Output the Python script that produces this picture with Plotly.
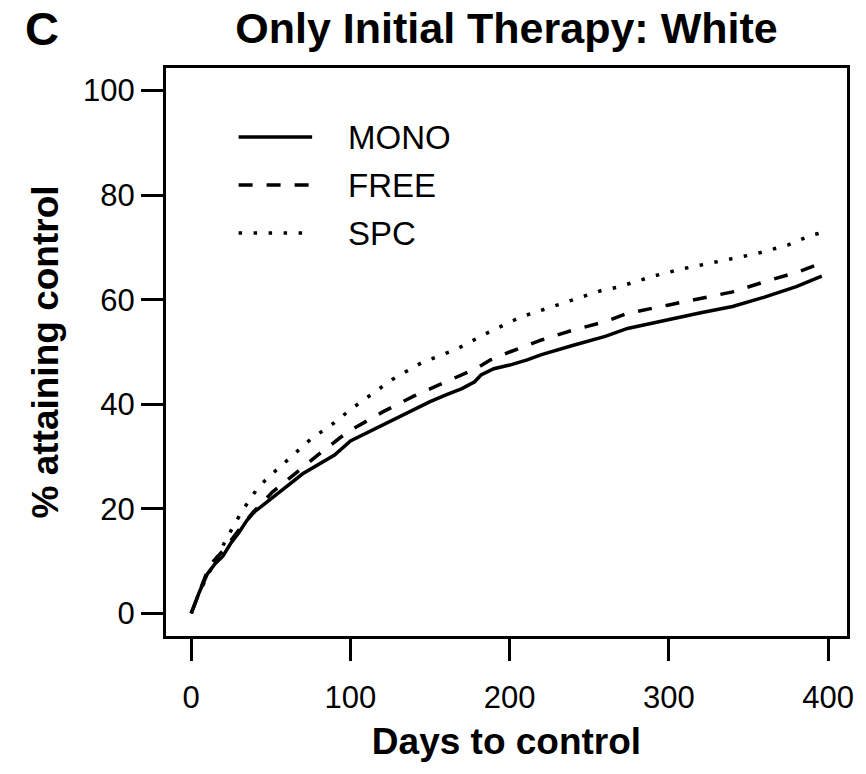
import plotly.graph_objects as go

# ---- data ----
mono_days = [0, 5, 10, 15, 20, 25, 30, 35, 40, 50, 60, 70, 80, 90, 100, 110, 120, 130, 140, 150,
             160, 170, 178, 182, 190, 200, 211, 220, 240, 260, 274, 290, 300, 320, 340, 360, 380, 396]
mono_pct = [0, 4, 7.5, 9.5, 11, 13.5, 15.5, 17.8, 19.5, 22, 24.3, 26.7, 28.5, 30.3, 33, 34.5, 36, 37.5, 39, 40.5,
            41.8, 43, 44.3, 45.6, 46.8, 47.5, 48.5, 49.5, 51.3, 53, 54.5, 55.6, 56.2, 57.5, 58.7, 60.5, 62.5, 64.5]

free_days = [0, 5, 10, 14, 20, 30, 39, 51, 60, 66, 80, 93, 100, 120, 140, 160, 180, 188, 200, 220,
             240, 260, 274, 300, 320, 340, 363, 380, 396]
free_pct = [0, 4.2, 8, 10, 12, 16, 19.4, 23.2, 25.5, 27, 30.4, 33.5, 35, 38.5, 41.6, 44.3, 47, 48.5, 50, 52.3,
            54.2, 55.8, 57.4, 59, 60.2, 61.5, 63.7, 65.2, 67]

spc_days = [0, 5, 11, 23, 32, 42, 49, 62, 75, 90, 100, 126, 145, 167, 185, 207, 230, 258, 268, 290,
            310, 330, 355, 375, 390, 396]
spc_pct = [0, 4, 7.6, 14.8, 19.6, 24.1, 26.2, 29.8, 33.3, 36.5, 39, 44.7, 48, 50.6, 53.5, 56.7, 59, 61.8, 62.4, 64.5,
           66, 67.3, 68.8, 70.5, 72.4, 72.8]

series_names = ["MONO", "FREE", "SPC"]
x_ticks = [0, 100, 200, 300, 400]
y_ticks = [0, 20, 40, 60, 80, 100]

FONT = "Liberation Sans, Arial, Helvetica, sans-serif"
DASH = {"MONO": "solid", "FREE": "14px,14px", "SPC": "3.5px,11.5px"}
LW = 3.5

fig = go.Figure()
for name, xs, ys in [("MONO", mono_days, mono_pct), ("FREE", free_days, free_pct), ("SPC", spc_days, spc_pct)]:
    fig.add_trace(go.Scatter(x=xs, y=ys, mode="lines", name=name,
                             line=dict(color="black", width=LW, dash=DASH[name]),
                             showlegend=False))

# custom legend (R style)
leg_y = [0.8785, 0.794, 0.7095]
for name, yy in zip(series_names, leg_y):
    fig.add_shape(type="line", xref="paper", yref="paper", x0=0.1066, x1=0.2146, y0=yy, y1=yy,
                  line=dict(color="black", width=LW, dash=DASH[name]))
    fig.add_annotation(xref="paper", yref="paper", x=0.2642, y=yy, text=name, showarrow=False,
                       xanchor="left", yanchor="middle", font=dict(family=FONT, size=33, color="black"))

# panel letter
fig.add_annotation(xref="paper", yref="paper", x=-0.21, y=1.0704, text="<b>C</b>", showarrow=False,
                   xanchor="left", yanchor="middle", font=dict(family=FONT, size=47, color="black"))

axis_common = dict(showgrid=False, zeroline=False, showline=True, linewidth=3, linecolor="black",
                   mirror=True, ticks="outside", ticklen=22, tickwidth=3, tickcolor="black",
                   tickfont=dict(family=FONT, size=31, color="black"))

fig.update_layout(
    width=866, height=774,
    margin=dict(l=166, r=15, t=68, b=138),
    paper_bgcolor="white", plot_bgcolor="white",
    title=dict(text="<b>Only Initial Therapy: White</b>", x=0.5, xref="paper", y=1 - 28 / 774,
               yref="container", xanchor="center", yanchor="middle",
               font=dict(family=FONT, size=43, color="black")),
    xaxis=dict(range=[-15.84, 411.84], tickvals=x_ticks, ticktext=[str(v) for v in x_ticks],
               title=dict(text="<b>Days to control</b>", font=dict(family=FONT, size=37, color="black"),
                          standoff=14),
               ticklabelstandoff=10, **axis_common),
    yaxis=dict(range=[-4.32, 104.32], tickvals=y_ticks, ticktext=[str(v) for v in y_ticks],
               title=dict(text="<b>% attaining control</b>", font=dict(family=FONT, size=37, color="black"),
                          standoff=14),
               **axis_common),
)

fig.write_html("out.html")
